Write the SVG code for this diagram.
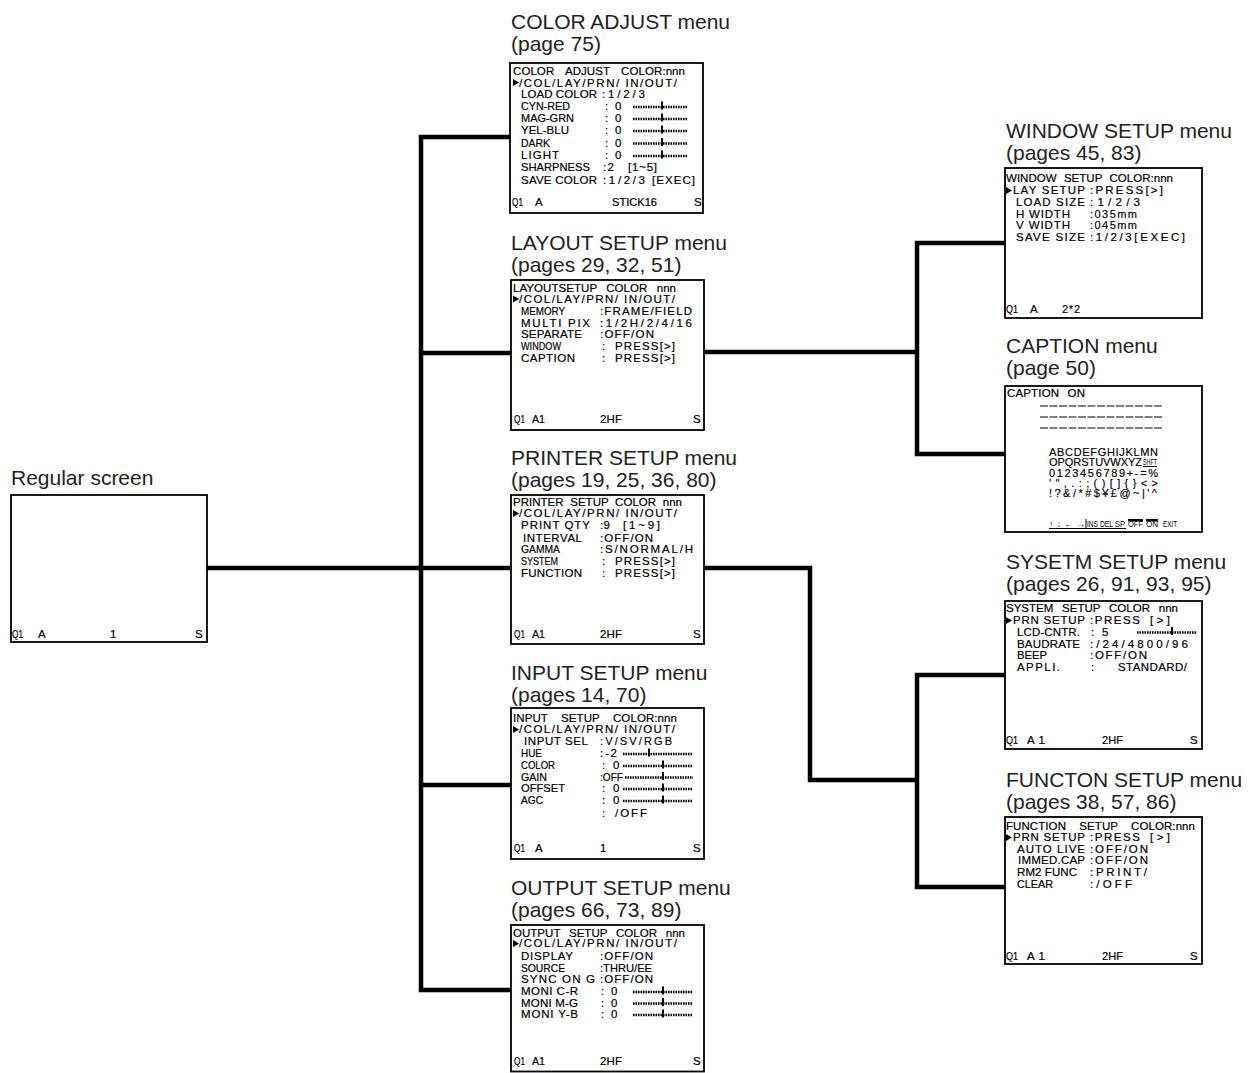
<svg xmlns="http://www.w3.org/2000/svg" xmlns:xlink="http://www.w3.org/1999/xlink" width="1258" height="1073" viewBox="0 0 1258 1073">
<style>
.box{fill:#fff;stroke:#000;stroke-width:1.8}
.t{font-family:"Liberation Sans",Arial,sans-serif;font-size:21px;fill:#222}
.m{font-family:"Liberation Sans",Arial,sans-serif;font-size:11.5px;fill:#000;stroke:#000;stroke-width:0.2}
.c{font-family:"Liberation Sans",Arial,sans-serif;font-size:11px;fill:#000;stroke:#000;stroke-width:0.15}
.s{font-family:"Liberation Sans",Arial,sans-serif;font-size:8.5px;fill:#000}
.sl{stroke:#000;stroke-width:2.4;stroke-dasharray:1.6 0.9;fill:none}
.ln{stroke:#000;stroke-width:1;fill:none}
.dl{stroke:#000;stroke-width:1;stroke-dasharray:8 1.5;fill:none}
.con{stroke:#000;stroke-width:4.5;fill:none;stroke-linejoin:miter}
</style>
<defs>
<path id="tri" d="M0,0 L6,3.5 L0,7 Z" fill="#000"/>
<rect id="mk" x="-1" y="-5.5" width="2" height="8" fill="#000"/>
</defs>
<rect width="1258" height="1073" fill="#fff"/>

<g id="connectors">
<path class="con" d="M510,137 H421 V990 H511"/>
<path class="con" d="M421,353 H511"/>
<path class="con" d="M207,568 H511"/>
<path class="con" d="M421,785 H511"/>
<path class="con" d="M704,352 H917"/>
<path class="con" d="M1005,243 H917 V454 H1005"/>
<path class="con" d="M704,568 H810 V780 H917"/>
<path class="con" d="M1005,675 H917 V887 H1005"/>
</g>

<g id="regular-screen">
<text class="t" x="11" y="485">Regular screen</text>
<rect class="box" x="11" y="495" width="196" height="147"/>
<text class="m" x="12" y="638" textLength="11" lengthAdjust="spacingAndGlyphs">Q1</text>
<text class="m" x="38" y="638">A</text>
<text class="m" x="110" y="638">1</text>
<text class="m" x="195" y="638">S</text>
</g>

<g id="color-adjust">
<text class="t" x="511" y="29">COLOR ADJUST menu</text>
<text class="t" x="511" y="50.5">(page 75)</text>
<rect class="box" x="510" y="63" width="193" height="150"/>
<text class="m" x="513" y="75" word-spacing="8" textLength="172" lengthAdjust="spacing">COLOR ADJUST COLOR:nnn</text>
<use xlink:href="#tri" x="513" y="79"/>
<text class="m" x="519" y="86.5" textLength="158" lengthAdjust="spacing">/COL/LAY/PRN/ IN/OUT/</text>
<text class="m" x="521" y="98" textLength="76" lengthAdjust="spacing">LOAD COLOR</text>
<text class="m" x="602" y="98" textLength="43" lengthAdjust="spacing">:1/2/3</text>
<text class="m" x="521" y="110" textLength="49" lengthAdjust="spacingAndGlyphs">CYN-RED</text>
<text class="m" x="605" y="110">:</text><text class="m" x="615" y="110">0</text>
<line class="sl" x1="633" y1="107" x2="688" y2="107"/><use xlink:href="#mk" x="662" y="107"/>
<text class="m" x="521" y="122" textLength="53" lengthAdjust="spacingAndGlyphs">MAG-GRN</text>
<text class="m" x="605" y="122">:</text><text class="m" x="615" y="122">0</text>
<line class="sl" x1="633" y1="119" x2="688" y2="119"/><use xlink:href="#mk" x="662" y="119"/>
<text class="m" x="521" y="134" textLength="48" lengthAdjust="spacing">YEL-BLU</text>
<text class="m" x="605" y="134">:</text><text class="m" x="615" y="134">0</text>
<line class="sl" x1="633" y1="131" x2="688" y2="131"/><use xlink:href="#mk" x="662" y="131"/>
<text class="m" x="521" y="146.5" textLength="29" lengthAdjust="spacingAndGlyphs">DARK</text>
<text class="m" x="605" y="146.5">:</text><text class="m" x="615" y="146.5">0</text>
<line class="sl" x1="633" y1="143.5" x2="688" y2="143.5"/><use xlink:href="#mk" x="662" y="143.5"/>
<text class="m" x="521" y="159" textLength="38" lengthAdjust="spacing">LIGHT</text>
<text class="m" x="605" y="159">:</text><text class="m" x="615" y="159">0</text>
<line class="sl" x1="633" y1="156" x2="688" y2="156"/><use xlink:href="#mk" x="662" y="156"/>
<text class="m" x="521" y="171" textLength="69" lengthAdjust="spacingAndGlyphs">SHARPNESS</text>
<text class="m" x="603" y="171" textLength="11" lengthAdjust="spacing">:2</text>
<text class="m" x="628" y="171" textLength="29" lengthAdjust="spacing">[1~5]</text>
<text class="m" x="521" y="184" textLength="76" lengthAdjust="spacing">SAVE COLOR</text>
<text class="m" x="603" y="184" textLength="42" lengthAdjust="spacing">:1/2/3</text>
<text class="m" x="652" y="184" textLength="43" lengthAdjust="spacing">[EXEC]</text>
<text class="m" x="512" y="206" textLength="11" lengthAdjust="spacingAndGlyphs">Q1</text>
<text class="m" x="535" y="206">A</text>
<text class="m" x="612" y="206" textLength="45" lengthAdjust="spacingAndGlyphs">STICK16</text>
<text class="m" x="694" y="206">S</text>
</g>

<g id="layout-setup">
<text class="t" x="511" y="249.5">LAYOUT SETUP menu</text>
<text class="t" x="511" y="271.5">(pages 29, 32, 51)</text>
<rect class="box" x="511" y="280" width="193" height="150"/>
<text class="m" x="513" y="292" word-spacing="6" textLength="163" lengthAdjust="spacing">LAYOUTSETUP COLOR nnn</text>
<use xlink:href="#tri" x="513" y="295.5"/>
<text class="m" x="519" y="302.5" textLength="156" lengthAdjust="spacing">/COL/LAY/PRN/ IN/OUT/</text>
<text class="m" x="521" y="314.5" textLength="44" lengthAdjust="spacingAndGlyphs">MEMORY</text>
<text class="m" x="600" y="314.5" textLength="92" lengthAdjust="spacing">:FRAME/FIELD</text>
<text class="m" x="521" y="326.5" textLength="69" lengthAdjust="spacing">MULTI PIX</text>
<text class="m" x="600" y="326.5" textLength="92" lengthAdjust="spacing">:1/2H/2/4/16</text>
<text class="m" x="521" y="338" textLength="61" lengthAdjust="spacing">SEPARATE</text>
<text class="m" x="600" y="338" textLength="54" lengthAdjust="spacing">:OFF/ON</text>
<text class="m" x="521" y="350" textLength="40" lengthAdjust="spacingAndGlyphs">WINDOW</text>
<text class="m" x="602" y="350">:</text>
<text class="m" x="615" y="350" textLength="60" lengthAdjust="spacing">PRESS[&gt;]</text>
<text class="m" x="521" y="361.5" textLength="54" lengthAdjust="spacing">CAPTION</text>
<text class="m" x="602" y="361.5">:</text>
<text class="m" x="615" y="361.5" textLength="60" lengthAdjust="spacing">PRESS[&gt;]</text>
<text class="m" x="514" y="423" textLength="11" lengthAdjust="spacingAndGlyphs">Q1</text>
<text class="m" x="532" y="423" textLength="13" lengthAdjust="spacingAndGlyphs">A1</text>
<text class="m" x="600" y="423" textLength="22" lengthAdjust="spacing">2HF</text>
<text class="m" x="693" y="423">S</text>
</g>

<g id="printer-setup">
<text class="t" x="511" y="464.5">PRINTER SETUP menu</text>
<text class="t" x="511" y="486.5">(pages 19, 25, 36, 80)</text>
<rect class="box" x="511" y="495" width="193" height="149"/>
<text class="m" x="513" y="505.5" word-spacing="3.5" textLength="169" lengthAdjust="spacing">PRINTER SETUP COLOR nnn</text>
<use xlink:href="#tri" x="513" y="510"/>
<text class="m" x="519" y="517" textLength="158" lengthAdjust="spacing">/COL/LAY/PRN/ IN/OUT/</text>
<text class="m" x="521" y="529" textLength="69" lengthAdjust="spacing">PRINT QTY</text>
<text class="m" x="600" y="529" textLength="10" lengthAdjust="spacing">:9</text>
<text class="m" x="623" y="529" textLength="37" lengthAdjust="spacing">[1~9]</text>
<text class="m" x="523" y="541.5" textLength="59" lengthAdjust="spacing">INTERVAL</text>
<text class="m" x="600" y="541.5" textLength="53" lengthAdjust="spacing">:OFF/ON</text>
<text class="m" x="521" y="553" textLength="39" lengthAdjust="spacingAndGlyphs">GAMMA</text>
<text class="m" x="600" y="553" textLength="93" lengthAdjust="spacing">:S/NORMAL/H</text>
<text class="m" x="521" y="565" textLength="37" lengthAdjust="spacingAndGlyphs">SYSTEM</text>
<text class="m" x="602" y="565">:</text>
<text class="m" x="615" y="565" textLength="60" lengthAdjust="spacing">PRESS[&gt;]</text>
<text class="m" x="521" y="576.5" textLength="61" lengthAdjust="spacing">FUNCTION</text>
<text class="m" x="602" y="576.5">:</text>
<text class="m" x="615" y="576.5" textLength="60" lengthAdjust="spacing">PRESS[&gt;]</text>
<text class="m" x="514" y="638" textLength="11" lengthAdjust="spacingAndGlyphs">Q1</text>
<text class="m" x="532" y="638" textLength="13" lengthAdjust="spacingAndGlyphs">A1</text>
<text class="m" x="600" y="638" textLength="22" lengthAdjust="spacing">2HF</text>
<text class="m" x="693" y="638">S</text>
</g>

<g id="input-setup">
<text class="t" x="511" y="679.5">INPUT SETUP menu</text>
<text class="t" x="511" y="701.5">(pages 14, 70)</text>
<rect class="box" x="511" y="708" width="193" height="151"/>
<text class="m" x="513" y="721.5" word-spacing="10" textLength="164" lengthAdjust="spacing">INPUT SETUP COLOR:nnn</text>
<use xlink:href="#tri" x="513" y="726"/>
<text class="m" x="519" y="733" textLength="156" lengthAdjust="spacing">/COL/LAY/PRN/ IN/OUT/</text>
<text class="m" x="524" y="745" textLength="64" lengthAdjust="spacing">INPUT SEL</text>
<text class="c" x="600" y="745" font-size="13" textLength="72" lengthAdjust="spacing">:V/SV/RGB</text>
<text class="m" x="521" y="757" textLength="21" lengthAdjust="spacingAndGlyphs">HUE</text>
<text class="m" x="600" y="757" textLength="17" lengthAdjust="spacing">:-2</text>
<line class="sl" x1="623" y1="754" x2="693" y2="754"/><use xlink:href="#mk" x="649" y="754"/>
<text class="m" x="521" y="769" textLength="34" lengthAdjust="spacingAndGlyphs">COLOR</text>
<text class="m" x="602" y="769">:</text><text class="m" x="613" y="769">0</text>
<line class="sl" x1="623" y1="766" x2="693" y2="766"/><use xlink:href="#mk" x="663" y="766"/>
<text class="m" x="521" y="780.5" textLength="26" lengthAdjust="spacingAndGlyphs">GAIN</text>
<text class="m" x="600" y="780.5" textLength="23" lengthAdjust="spacingAndGlyphs">:OFF</text>
<line class="sl" x1="625" y1="777.5" x2="693" y2="777.5"/><use xlink:href="#mk" x="663" y="777.5"/>
<text class="m" x="521" y="792" textLength="44" lengthAdjust="spacingAndGlyphs">OFFSET</text>
<text class="m" x="602" y="792">:</text><text class="m" x="613" y="792">0</text>
<line class="sl" x1="623" y1="789" x2="693" y2="789"/><use xlink:href="#mk" x="663" y="789"/>
<text class="m" x="521" y="804" textLength="22" lengthAdjust="spacingAndGlyphs">AGC</text>
<text class="m" x="602" y="804">:</text><text class="m" x="613" y="804">0</text>
<line class="sl" x1="623" y1="801" x2="693" y2="801"/><use xlink:href="#mk" x="663" y="801"/>
<text class="m" x="602" y="816.5">:</text>
<text class="m" x="615" y="816.5" textLength="32" lengthAdjust="spacing">/OFF</text>
<text class="m" x="514" y="852" textLength="11" lengthAdjust="spacingAndGlyphs">Q1</text>
<text class="m" x="535" y="852">A</text>
<text class="m" x="600" y="852">1</text>
<text class="m" x="693" y="852">S</text>
</g>

<g id="output-setup">
<text class="t" x="511" y="894.5">OUTPUT SETUP menu</text>
<text class="t" x="511" y="916.5">(pages 66, 73, 89)</text>
<rect class="box" x="511" y="925" width="193" height="146.5"/>
<text class="m" x="513" y="936.5" word-spacing="5.5" textLength="172" lengthAdjust="spacing">OUTPUT SETUP COLOR nnn</text>
<use xlink:href="#tri" x="513" y="940"/>
<text class="m" x="519" y="947" textLength="158" lengthAdjust="spacing">/COL/LAY/PRN/ IN/OUT/</text>
<text class="m" x="521" y="960" textLength="52" lengthAdjust="spacing">DISPLAY</text>
<text class="m" x="600" y="960" textLength="53" lengthAdjust="spacing">:OFF/ON</text>
<text class="m" x="521" y="971.5" textLength="44" lengthAdjust="spacingAndGlyphs">SOURCE</text>
<text class="m" x="600" y="971.5" textLength="52" lengthAdjust="spacingAndGlyphs">:THRU/EE</text>
<text class="m" x="521" y="983" textLength="74" lengthAdjust="spacing">SYNC ON G</text>
<text class="m" x="600" y="983" textLength="53" lengthAdjust="spacing">:OFF/ON</text>
<text class="m" x="521" y="995" textLength="57" lengthAdjust="spacing">MONI C-R</text>
<text class="m" x="601" y="995">:</text><text class="m" x="611" y="995">0</text>
<line class="sl" x1="633" y1="992" x2="693" y2="992"/><use xlink:href="#mk" x="663" y="992"/>
<text class="m" x="521" y="1006.5" textLength="57" lengthAdjust="spacing">MONI M-G</text>
<text class="m" x="601" y="1006.5">:</text><text class="m" x="611" y="1006.5">0</text>
<line class="sl" x1="633" y1="1003.5" x2="693" y2="1003.5"/><use xlink:href="#mk" x="663" y="1003.5"/>
<text class="m" x="521" y="1018" textLength="57" lengthAdjust="spacing">MONI Y-B</text>
<text class="m" x="601" y="1018">:</text><text class="m" x="611" y="1018">0</text>
<line class="sl" x1="633" y1="1015" x2="693" y2="1015"/><use xlink:href="#mk" x="663" y="1015"/>
<text class="m" x="514" y="1065" textLength="11" lengthAdjust="spacingAndGlyphs">Q1</text>
<text class="m" x="532" y="1065" textLength="13" lengthAdjust="spacingAndGlyphs">A1</text>
<text class="m" x="600" y="1065" textLength="22" lengthAdjust="spacing">2HF</text>
<text class="m" x="693" y="1065">S</text>
</g>

<g id="window-setup">
<text class="t" x="1006" y="137.5">WINDOW SETUP menu</text>
<text class="t" x="1006" y="160">(pages 45, 83)</text>
<rect class="box" x="1005" y="168" width="197" height="150"/>
<text class="m" x="1006" y="181.5" word-spacing="4" textLength="167" lengthAdjust="spacing">WINDOW SETUP COLOR:nnn</text>
<use xlink:href="#tri" x="1006" y="187"/>
<text class="m" x="1013" y="194" textLength="72" lengthAdjust="spacing">LAY SETUP</text>
<text class="m" x="1090" y="194" textLength="73" lengthAdjust="spacing">:PRESS[&gt;]</text>
<text class="m" x="1016" y="205.5" textLength="69" lengthAdjust="spacing">LOAD SIZE</text>
<text class="m" x="1090" y="205.5" textLength="50" lengthAdjust="spacing">:1/2/3</text>
<text class="m" x="1016" y="217.5" textLength="54" lengthAdjust="spacing">H WIDTH</text>
<text class="c" x="1090" y="217.5" font-size="12" textLength="47" lengthAdjust="spacing">:035mm</text>
<text class="m" x="1016" y="229" textLength="54" lengthAdjust="spacing">V WIDTH</text>
<text class="c" x="1090" y="229" font-size="12" textLength="47" lengthAdjust="spacing">:045mm</text>
<text class="m" x="1016" y="241" textLength="69" lengthAdjust="spacing">SAVE SIZE</text>
<text class="m" x="1090" y="241" textLength="95" lengthAdjust="spacing">:1/2/3[EXEC]</text>
<text class="m" x="1006" y="313" textLength="12" lengthAdjust="spacingAndGlyphs">Q1</text>
<text class="m" x="1030" y="313">A</text>
<text class="c" x="1062" y="313" textLength="18" lengthAdjust="spacing">2*2</text>
</g>

<g id="caption">
<text class="t" x="1006" y="352.5">CAPTION menu</text>
<text class="t" x="1006" y="375">(page 50)</text>
<rect class="box" x="1005" y="386" width="197" height="146"/>
<text class="m" x="1007" y="396.5" word-spacing="5" textLength="78" lengthAdjust="spacing">CAPTION ON</text>
<line class="dl" x1="1040" y1="406" x2="1163" y2="406"/>
<line class="dl" x1="1040" y1="417" x2="1163" y2="417"/>
<line class="dl" x1="1040" y1="428" x2="1163" y2="428"/>
<text class="c" x="1049" y="456" textLength="109" lengthAdjust="spacing">ABCDEFGHIJKLMN</text>
<text class="c" x="1049" y="466" textLength="93" lengthAdjust="spacing">OPQRSTUVWXYZ</text>
<text class="s" x="1143" y="465" font-size="5.5" textLength="14" lengthAdjust="spacingAndGlyphs">SHFT</text>
<line class="ln" x1="1143" y1="466.5" x2="1157" y2="466.5"/>
<text class="c" x="1049" y="476.5" textLength="109" lengthAdjust="spacing">0123456789+-=%</text>
<text class="c" x="1049" y="486.5" textLength="109" lengthAdjust="spacing">'",.:;()[]{}&lt;&gt;</text>
<text class="c" x="1049" y="496.5" textLength="108" lengthAdjust="spacing">!?&amp;/*#$¥£@~|'^</text>
<text class="s" x="1049" y="526.5" textLength="36" lengthAdjust="spacing">↑↓←→</text>
<text class="s" x="1087" y="526.5" textLength="11" lengthAdjust="spacingAndGlyphs">INS</text>
<text class="s" x="1100" y="526.5" textLength="13" lengthAdjust="spacingAndGlyphs">DEL</text>
<text class="s" x="1115" y="526.5" textLength="10" lengthAdjust="spacingAndGlyphs">SP</text>
<text class="s" x="1128" y="527" textLength="15" lengthAdjust="spacingAndGlyphs">OFF</text>
<text class="s" x="1146" y="527" textLength="12" lengthAdjust="spacingAndGlyphs">ON</text>
<text class="s" x="1163" y="527" font-size="9.5" textLength="14" lengthAdjust="spacingAndGlyphs">EXIT</text>
<line class="ln" x1="1049" y1="528.5" x2="1126" y2="528.5"/>
<line class="ln" x1="1086" y1="519" x2="1086" y2="528.5"/>
<rect x="1128" y="519" width="15" height="2.5" fill="#000"/>
<rect x="1146" y="519" width="12" height="2.5" fill="#000"/>
</g>

<g id="system-setup">
<text class="t" x="1006" y="569">SYSETM SETUP menu</text>
<text class="t" x="1006" y="591">(pages 26, 91, 93, 95)</text>
<rect class="box" x="1005" y="601" width="197" height="148"/>
<text class="m" x="1006" y="611.5" word-spacing="5.5" textLength="172" lengthAdjust="spacing">SYSTEM SETUP COLOR nnn</text>
<use xlink:href="#tri" x="1006" y="617"/>
<text class="m" x="1013" y="624" textLength="72" lengthAdjust="spacing">PRN SETUP</text>
<text class="m" x="1090" y="624" textLength="50" lengthAdjust="spacing">:PRESS</text>
<text class="m" x="1150" y="624" textLength="20" lengthAdjust="spacing">[&gt;]</text>
<text class="m" x="1017" y="635.5" textLength="63" lengthAdjust="spacing">LCD-CNTR.</text>
<text class="m" x="1091" y="635.5">:</text><text class="m" x="1102" y="635.5">5</text>
<line class="sl" x1="1137" y1="632.5" x2="1197" y2="632.5"/><use xlink:href="#mk" x="1172" y="632.5"/>
<text class="m" x="1017" y="648" textLength="63" lengthAdjust="spacing">BAUDRATE</text>
<text class="m" x="1090" y="648" textLength="98" lengthAdjust="spacing">:/24/4800/96</text>
<text class="m" x="1017" y="659" textLength="30" lengthAdjust="spacingAndGlyphs">BEEP</text>
<text class="m" x="1090" y="659" textLength="57" lengthAdjust="spacing">:OFF/ON</text>
<text class="m" x="1017" y="671" textLength="43" lengthAdjust="spacing">APPLI.</text>
<text class="m" x="1091" y="671">:</text>
<text class="m" x="1118" y="671" textLength="69" lengthAdjust="spacing">STANDARD/</text>
<text class="m" x="1006" y="744" textLength="12" lengthAdjust="spacingAndGlyphs">Q1</text>
<text class="m" x="1027" y="744" textLength="18" lengthAdjust="spacing">A1</text>
<text class="m" x="1102" y="744" textLength="21" lengthAdjust="spacingAndGlyphs">2HF</text>
<text class="m" x="1190" y="744">S</text>
</g>

<g id="function-setup">
<text class="t" x="1006" y="786.5">FUNCTON SETUP menu</text>
<text class="t" x="1006" y="808.5">(pages 38, 57, 86)</text>
<rect class="box" x="1005" y="817" width="197" height="147"/>
<text class="m" x="1006" y="830" word-spacing="10" textLength="189" lengthAdjust="spacing">FUNCTION SETUP COLOR:nnn</text>
<use xlink:href="#tri" x="1006" y="834"/>
<text class="m" x="1013" y="841" textLength="72" lengthAdjust="spacing">PRN SETUP</text>
<text class="m" x="1090" y="841" textLength="50" lengthAdjust="spacing">:PRESS</text>
<text class="m" x="1150" y="841" textLength="20" lengthAdjust="spacing">[&gt;]</text>
<text class="m" x="1017" y="852.5" textLength="68" lengthAdjust="spacing">AUTO LIVE</text>
<text class="m" x="1090" y="852.5" textLength="58" lengthAdjust="spacing">:OFF/ON</text>
<text class="m" x="1018" y="864" textLength="67" lengthAdjust="spacing">IMMED.CAP</text>
<text class="m" x="1090" y="864" textLength="58" lengthAdjust="spacing">:OFF/ON</text>
<text class="m" x="1017" y="875.5" textLength="60" lengthAdjust="spacing">RM2 FUNC</text>
<text class="m" x="1090" y="875.5" textLength="57" lengthAdjust="spacing">:PRINT/</text>
<text class="m" x="1017" y="888" textLength="36" lengthAdjust="spacingAndGlyphs">CLEAR</text>
<text class="m" x="1090" y="888" textLength="42" lengthAdjust="spacing">:/OFF</text>
<text class="m" x="1006" y="960" textLength="12" lengthAdjust="spacingAndGlyphs">Q1</text>
<text class="m" x="1027" y="960" textLength="18" lengthAdjust="spacing">A1</text>
<text class="m" x="1102" y="960" textLength="21" lengthAdjust="spacingAndGlyphs">2HF</text>
<text class="m" x="1190" y="960">S</text>
</g>
</svg>
